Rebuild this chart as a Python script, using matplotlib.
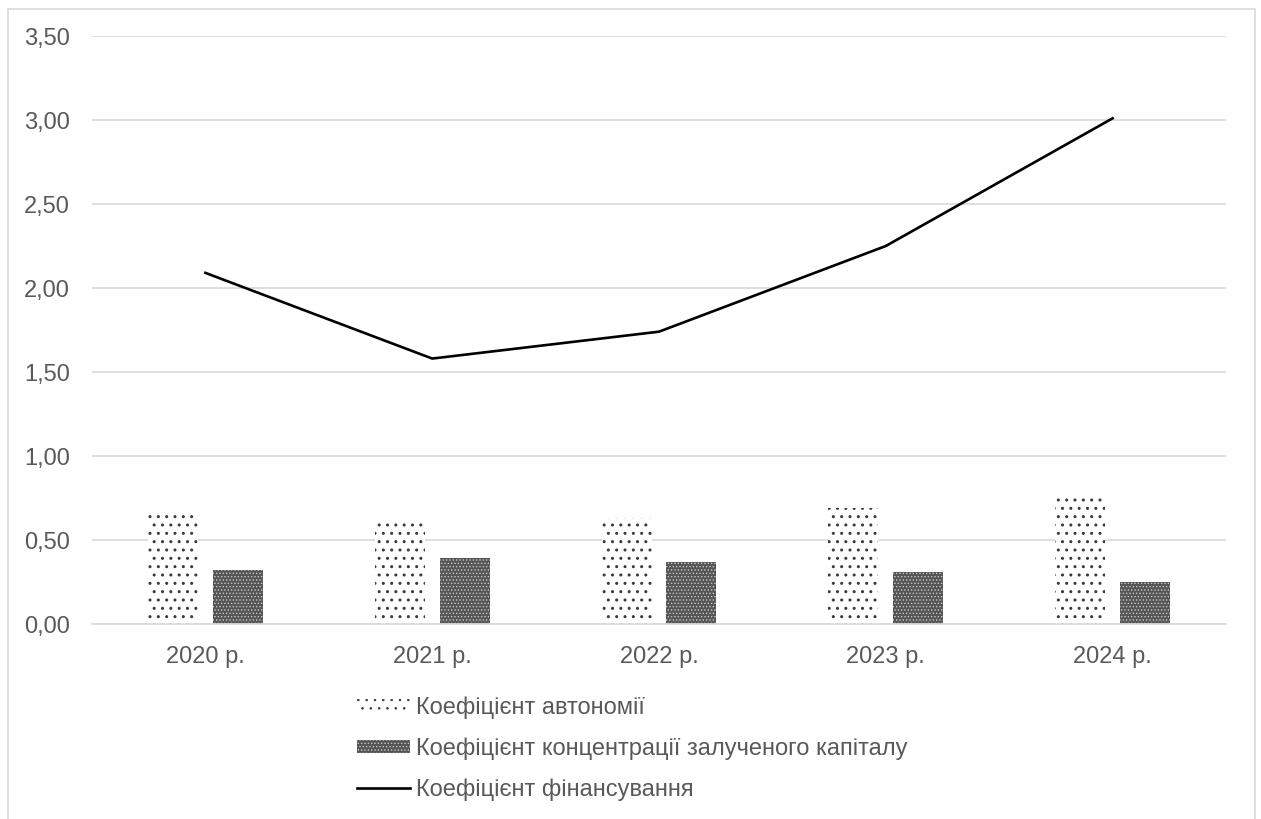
import numpy as np
import matplotlib
matplotlib.use("Agg")
import matplotlib.pyplot as plt
from matplotlib.patches import Rectangle
from matplotlib.ticker import FuncFormatter

# ------------------------------------------------------------
#   ДАНІ
# ------------------------------------------------------------
years = ["2020 р.", "2021 р.", "2022 р.", "2023 р.", "2024 р."]
autonomy = [0.68, 0.61, 0.63, 0.69, 0.75]
borrowed = [0.32, 0.39, 0.37, 0.31, 0.25]
financing = [2.09, 1.58, 1.74, 2.25, 3.01]

lbl_auto = "Коефіцієнт автономії"
lbl_borr = "Коефіцієнт концентрації залученого капіталу"
lbl_fin = "Коефіцієнт фінансування"

# ------------------------------------------------------------
#   СТИЛЬ
# ------------------------------------------------------------
FS = 17
plt.rcParams['font.family'] = ['Liberation Sans', 'DejaVu Sans']
plt.rcParams['font.size'] = FS

W, H = 1261, 819
fig = plt.figure(figsize=(W/100, H/100), dpi=100)

# рамка навколо діаграми
fig.patches.append(Rectangle((8/W, -0.01), (1255-8)/W, 1.01 - 9/H,
                             transform=fig.transFigure, fill=False,
                             edgecolor='#d9d9d9', linewidth=1.2))

ax = fig.add_axes([92/W, (H-624)/H, (1226-92)/W, (624-36)/H])

x = np.arange(len(years))
bw = 0.22
off = 0.143

# точки для коефіцієнта автономії (трохи товщі)
plt.rcParams['hatch.linewidth'] = 1.0
b1 = ax.bar(x - off, autonomy, bw, facecolor='white', edgecolor='#3a3a3a',
            hatch='..', linewidth=0, label=lbl_auto, zorder=2)
plt.rcParams['hatch.linewidth'] = 0.6
b2 = ax.bar(x + off, borrowed, bw, facecolor='#555555', edgecolor='#c8c8c8',
            hatch='.....', linewidth=0, label=lbl_borr, zorder=2)
l1, = ax.plot(x, financing, color='black', linewidth=1.9, label=lbl_fin, zorder=3)

ax.set_xlim(-0.5, len(years) - 0.5)
ax.set_ylim(0, 3.5)
ax.set_yticks(np.arange(0, 3.51, 0.5))
ax.yaxis.set_major_formatter(FuncFormatter(lambda v, p: f"{v:.2f}".replace('.', ',')))
ax.set_xticks(x)
ax.set_xticklabels(years)

ax.grid(axis='y', color='#d9d9d9', linewidth=1.2, zorder=0)
ax.set_axisbelow(True)
for s in ['top', 'right', 'left']:
    ax.spines[s].set_visible(False)
ax.spines['bottom'].set_color('#d9d9d9')
ax.spines['bottom'].set_linewidth(1.2)
ax.tick_params(axis='both', length=0, colors='#595959', labelsize=FS)
ax.tick_params(axis='y', pad=16)
ax.tick_params(axis='x', pad=16)

# ЛЕГЕНДА ПІД ГРАФІКОМ
fig.legend([b1, b2, l1], [lbl_auto, lbl_borr, lbl_fin],
           loc='upper left', bbox_to_anchor=(336/W, (H-675)/H),
           ncol=1, frameon=False, handlelength=2.25, handleheight=0.5,
           handletextpad=0.25, labelspacing=0.78, fontsize=FS,
           labelcolor='#595959')

fig.savefig("out.png", dpi=100)
